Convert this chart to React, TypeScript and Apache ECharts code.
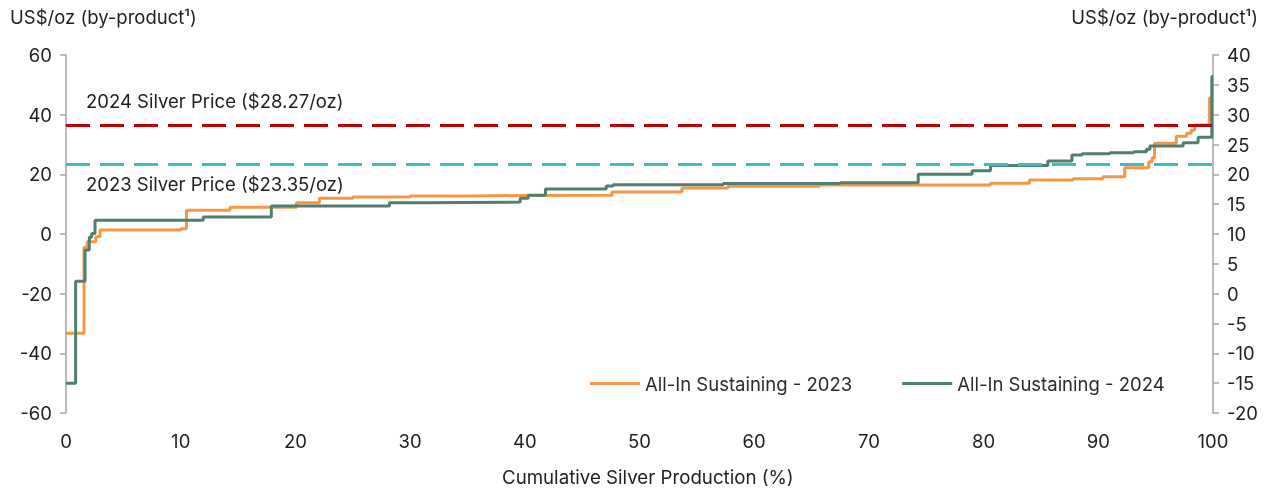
import React, { useEffect, useRef } from "react";
import * as echarts from "echarts";

const xTicks = [0, 10, 20, 30, 40, 50, 60, 70, 80, 90, 100];

const x2023 = [0, 1.57, 1.86, 2.6, 2.96, 10.0, 10.5, 14.3, 20.1, 22.1, 25, 30, 35, 39.5, 47.6, 53.7, 57.7, 65.7, 80.6, 84.0, 87.8, 90.4, 92.3, 94.4, 94.7, 94.9, 96.8, 97.7, 98.1, 98.4, 99.7, 100];
const v2023 = [-6.65, 7.8, 8.7, 9.55, 10.67, 10.9, 14.0, 14.47, 15.25, 15.98, 16.2, 16.35, 16.45, 16.5, 17.04, 17.7, 18.0, 18.2, 18.5, 19.05, 19.27, 19.6, 21.1, 22.1, 22.8, 25.2, 26.4, 26.9, 27.4, 28.27, 32.85, 32.85];

const x2024 = [0, 0.84, 1.66, 2.03, 2.24, 2.53, 11.97, 17.9, 28.2, 31.3, 39.6, 40.3, 41.8, 47.1, 47.7, 57.3, 67.5, 74.3, 79.0, 80.6, 85.6, 87.7, 88.6, 91.0, 93.1, 94.2, 94.5, 97.4, 98.7, 99.9, 100];
const v2024 = [-15.0, 2.1, 7.3, 9.45, 10.1, 12.3, 12.85, 14.7, 15.25, 15.35, 16.0, 16.5, 17.55, 18.05, 18.27, 18.45, 18.6, 20.0, 20.6, 21.5, 22.24, 23.24, 23.46, 23.63, 23.8, 24.2, 24.75, 25.3, 26.2, 36.4, 36.4];

const price2024 = 28.27; // right axis
const price2023 = 23.35; // plotted against left axis in the reference

const seriesNames = ["All-In Sustaining - 2023", "All-In Sustaining - 2024"];
const axisTitle = "US$/oz (by-product¹)";
const xTitle = "Cumulative Silver Production (%)";

const FONT = "Inter";
const TXT = "#1f1f1f";

export default function App() {
  const ref = useRef<HTMLDivElement>(null);
  useEffect(() => {
    if (!ref.current) return;
    const chart = echarts.init(ref.current, null, { renderer: "svg" });
    const d23 = x2023.map((x, i) => [x, v2023[i]]);
    const d24 = x2024.map((x, i) => [x, v2024[i]]);
    chart.setOption({
      animation: false,
      textStyle: { fontFamily: FONT },
      grid: { left: 66, right: 60, top: 55, bottom: 76 },
      legend: {
        data: seriesNames,
        icon: "rect",
        left: 585,
        top: 369,
        itemWidth: 50,
        itemHeight: 3,
        itemGap: 50,
        textStyle: { fontFamily: FONT, fontSize: 18.5, color: "#2a2a35", padding: [0, 0, 0, 0] },
      },
      graphic: [
        { type: "text", left: 10, top: 7, style: { text: axisTitle, fontFamily: FONT, fontSize: 18.5, fill: TXT } },
        { type: "text", right: 15, top: 7, style: { text: axisTitle, fontFamily: FONT, fontSize: 18.5, fill: TXT } },
        { type: "text", left: 502, top: 468, style: { text: xTitle, fontFamily: FONT, fontSize: 18.7, fill: TXT } },
      ],
      xAxis: {
        type: "value",
        min: 0,
        max: 100,
        interval: 10,
        axisLine: { show: false },
        axisTick: { show: false },
        splitLine: { show: false },
        axisLabel: { margin: 18, fontSize: 18.5, color: TXT, fontFamily: FONT, formatter: (v: number) => (xTicks.includes(v) ? String(v) : "") },
      },
      yAxis: [
        {
          type: "value",
          min: -60,
          max: 60,
          interval: 20,
          position: "left",
          axisLine: { show: true, lineStyle: { color: "#A6A6A6", width: 1.5 } },
          axisTick: { show: true, length: 6, lineStyle: { color: "#A6A6A6", width: 1.5 } },
          splitLine: { show: false },
          axisLabel: { margin: 14, fontSize: 18.5, color: TXT, fontFamily: FONT },
        },
        {
          type: "value",
          min: -20,
          max: 40,
          interval: 5,
          position: "right",
          axisLine: { show: true, lineStyle: { color: "#A6A6A6", width: 1.5 } },
          axisTick: { show: true, length: 6, lineStyle: { color: "#A6A6A6", width: 1.5 } },
          splitLine: { show: false },
          axisLabel: { margin: 14, fontSize: 18.5, color: TXT, fontFamily: FONT },
        },
      ],
      series: [
        {
          name: "price2023",
          type: "line",
          yAxisIndex: 0,
          data: [[0, price2023]],
          symbol: "none",
          lineStyle: { width: 0 },
          silent: true,
          markLine: {
            silent: true,
            symbol: ["none", "none"],
            data: [{ yAxis: price2023 }],
            lineStyle: { color: "#3DBFC2", width: 3, type: [24, 10] },
            label: {
              show: true,
              position: "insideStartBottom",
              distance: [20, 10],
              formatter: "2023 Silver Price ($23.35/oz)",
              fontFamily: FONT,
              fontSize: 18.5,
              color: TXT,
            },
          },
        },
        {
          name: seriesNames[0],
          type: "line",
          yAxisIndex: 1,
          step: "end",
          data: d23,
          symbol: "none",
          showSymbol: false,
          color: "#F79646",
          lineStyle: { width: 3, color: "#F79646" },
        },
        {
          name: seriesNames[1],
          type: "line",
          yAxisIndex: 1,
          step: "end",
          data: d24,
          symbol: "none",
          showSymbol: false,
          color: "#517F6F",
          lineStyle: { width: 3, color: "#517F6F" },
          markLine: {
            silent: true,
            symbol: ["none", "none"],
            data: [{ yAxis: price2024 }],
            lineStyle: { color: "#C00000", width: 3, type: [24, 10] },
            label: {
              show: true,
              position: "insideStartTop",
              distance: [20, 14],
              formatter: "2024 Silver Price ($28.27/oz)",
              fontFamily: FONT,
              fontSize: 18.5,
              color: TXT,
            },
          },
        },
      ],
    });
    return () => chart.dispose();
  }, []);
  return <div ref={ref} style={{ position: "fixed", left: 0, top: 0, width: 1273, height: 489 }} />;
}
